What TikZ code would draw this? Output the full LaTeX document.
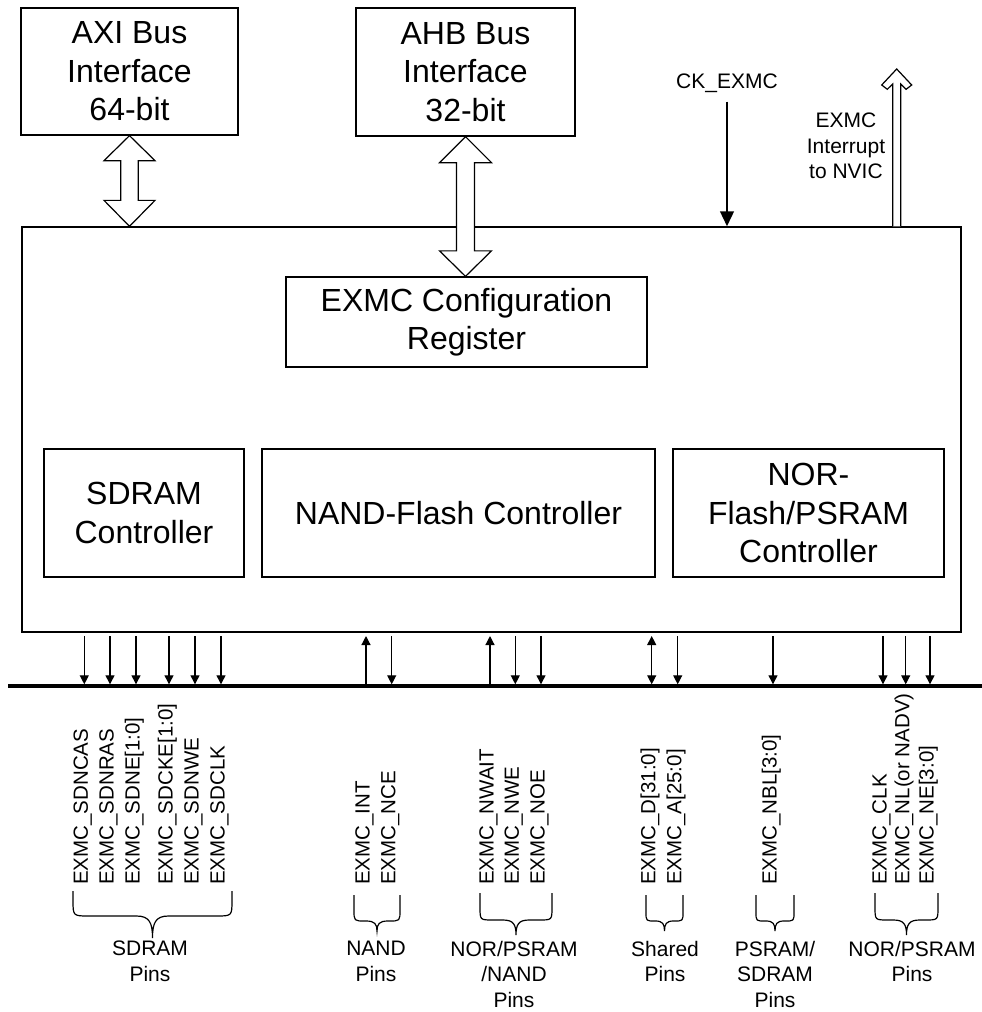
\documentclass[tikz,border=0pt]{standalone}
\usepackage{fontspec}
\setmainfont{Liberation Sans}
\usetikzlibrary{arrows.meta,calc}
\newcommand{\pinbrace}[6]{%
  \draw[bracestyle] (#1,#3) -- (#1,{#4-#6}) .. controls (#1,#4) .. ({#1+#6},#4)
    -- ({(#1+#2)/2-#6},#4)
    .. controls ({(#1+#2)/2-0.2*#6},#4) and ({(#1+#2)/2},{#4+0.3*(#5-#4)}) .. ({(#1+#2)/2},#5)
    .. controls ({(#1+#2)/2},{#4+0.3*(#5-#4)}) and ({(#1+#2)/2+0.2*#6},#4) .. ({(#1+#2)/2+#6},#4)
    -- ({#2-#6},#4) .. controls (#2,#4) .. (#2,{#4-#6}) -- (#2,#3);}
\begin{document}
\begin{tikzpicture}[x=1pt,y=-1pt,
  box/.style={draw, line width=1.3pt, inner sep=0pt, align=center,
    font=\fontsize{32}{38.5}\selectfont},
  hollow/.style={draw, fill=white, line width=1.2pt, line join=miter},
  pinlbl/.style={rotate=90, anchor=west, inner sep=0pt, text height=0.716em, text depth=0pt,
    font=\fontsize{20.5}{24}\selectfont},
  grplbl/.style={anchor=north, inner sep=0pt, align=center,
    font=\fontsize{21}{25.5}\selectfont},
  arr d/.style={line width=1.2pt, -{Triangle[length=9pt,width=9pt]}},
  arr u/.style={line width=1.2pt, {Triangle[length=9pt,width=9pt]}-},
  arr b/.style={line width=1.2pt, {Triangle[length=9pt,width=9pt]}-{Triangle[length=9pt,width=9pt]}},
  bracestyle/.style={line width=1.2pt}]
\useasboundingbox (0,0) rectangle (982,1012);

% boxes
\node[box, minimum width=217pt, minimum height=127pt] (axi) at (129.5,71.5) {AXI Bus\\Interface\\64-bit};
\node[box, minimum width=219pt, minimum height=128pt] (ahb) at (465.5,72) {AHB Bus\\Interface\\32-bit};
\node[box, minimum width=939pt, minimum height=405pt] (main) at (491.5,429.5) {};
\node[box, minimum width=361pt, minimum height=90pt] (cfg) at (466.5,322) {EXMC Configuration\\Register};
\node[box, minimum width=200pt, minimum height=128pt] (sdram) at (144,513) {SDRAM\\Controller};
\node[box, minimum width=393pt, minimum height=128pt] (nand) at (458.5,513) {NAND-Flash Controller};
\node[box, minimum width=271pt, minimum height=128pt] (nor) at (808.5,513) {NOR-\\Flash/PSRAM\\Controller};

% fat double arrows
\draw[hollow] let \p1=(axi.south), \p2=(main.north) in
  (\x1,\y1) -- (\x1-25.5pt,\y1-25pt) -- (\x1-8.7pt,\y1-25pt) -- (\x1-8.7pt,\y2+26pt)
  -- (\x1-25.5pt,\y2+26pt) -- (\x1,\y2) -- (\x1+25.5pt,\y2+26pt) -- (\x1+8.7pt,\y2+26pt)
  -- (\x1+8.7pt,\y1-25pt) -- (\x1+25.5pt,\y1-25pt) -- cycle;
\draw[hollow] let \p1=(ahb.south), \p2=(cfg.north) in
  (\x1,\y1) -- (\x1-26pt,\y1-26pt) -- (\x1-9pt,\y1-26pt) -- (\x1-9pt,\y2+25.5pt)
  -- (\x1-26pt,\y2+25.5pt) -- (\x1,\y2) -- (\x1+26pt,\y2+25.5pt) -- (\x1+9pt,\y2+25.5pt)
  -- (\x1+9pt,\y1-26pt) -- (\x1+26pt,\y1-26pt) -- cycle;

% clock input
\node[inner sep=0pt, font=\fontsize{21}{25}\selectfont] (ck) at (727,83) {CK\_EXMC};
\coordinate (ckin) at (ck.south |- main.north);
\draw[line width=2.6pt, -{Triangle[length=15pt,width=13.5pt]}] ([yshift=-9pt]ck.south) -- (ckin);

% interrupt output
\coordinate (irq) at (896.7,69);
\draw[hollow] let \p1=(irq), \p2=(main.north) in
  (\x1-4pt,\y2) -- (\x1-4pt,\y1-15pt) -- (\x1-9.4pt,\y1-20.3pt) -- (\x1-15pt,\y1-16pt)
  -- (\x1,\y1) -- (\x1+15pt,\y1-16pt) -- (\x1+9.4pt,\y1-20.3pt) -- (\x1+4pt,\y1-15pt)
  -- (\x1+4pt,\y2);
\node[inner sep=0pt, align=center, font=\fontsize{21}{25.5}\selectfont] (irqlbl) at (846,146) {EXMC\\Interrupt\\to NVIC};

% bus line
\coordinate (busl) at (8,686);
\coordinate (busr) at (982,686);
\draw[line width=3.5pt] (busl) -- (busr);

% pin arrows and labels
\foreach \i/\x/\k/\t in {
  1/84.3/d/EXMC\_SDNCAS, 2/110/d/EXMC\_SDNRAS, 3/136/d/EXMC\_SDNE[1:0],
  4/169/d/EXMC\_SDCKE[1:0], 5/195/d/EXMC\_SDNWE, 6/221/d/EXMC\_SDCLK,
  7/366/u/EXMC\_INT, 8/391.7/d/EXMC\_NCE,
  9/490/u/EXMC\_NWAIT, 10/515.3/d/EXMC\_NWE, 11/541/d/EXMC\_NOE,
  12/651.7/b/EXMC\_D[31:0], 13/677.7/d/EXMC\_A[25:0],
  14/773/d/EXMC\_NBL[3:0],
  15/883/d/EXMC\_CLK, 16/905.7/d/EXMC\_NL(or NADV), 17/930/d/EXMC\_NE[3:0]} {
  \coordinate (t\i) at (\x,636);
  \coordinate (b\i) at (\x,684.3);
  \draw[arr \k] (t\i) -- (b\i);
  \node[pinlbl] (l\i) at (\x,885) {\t};
}

% braces
\pinbrace{73}{232}{891}{916}{938}{16}
\pinbrace{354}{400}{895}{921}{931}{11}
\pinbrace{480}{552}{893}{920}{935}{13}
\pinbrace{646}{683}{895}{921}{931}{9}
\pinbrace{756}{794}{895}{921}{931}{9}
\pinbrace{875}{938}{893}{920}{935}{13}

% group labels
\node[grplbl] (g1) at (150,941) {SDRAM\\Pins};
\node[grplbl] (g2) at (376,941) {NAND\\Pins};
\node[grplbl] (g3) at (514,941) {NOR/PSRAM\\/NAND\\Pins};
\node[grplbl] (g4) at (665,941) {Shared\\Pins};
\node[grplbl] (g5) at (775,941) {PSRAM/\\SDRAM\\Pins};
\node[grplbl] (g6) at (912,941) {NOR/PSRAM\\Pins};
\end{tikzpicture}
\end{document}
